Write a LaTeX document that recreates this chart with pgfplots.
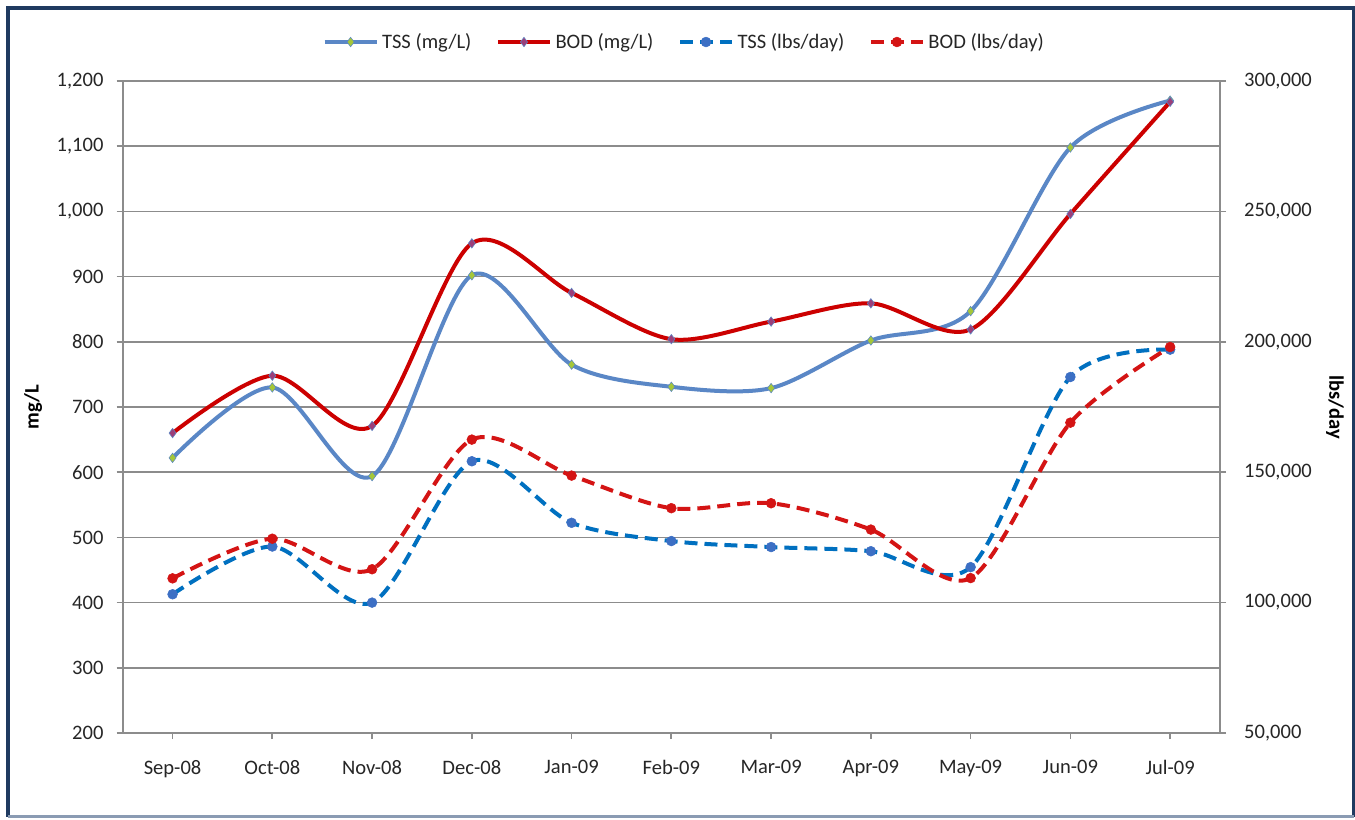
\documentclass[border=0pt]{standalone}
\usepackage{fontspec}
\setmainfont{Carlito}
\usepackage{pgfplots}
\pgfplotsset{compat=1.18}
\definecolor{frameblue}{HTML}{1F3A60}
\definecolor{framegray}{HTML}{8A9BB3}
\definecolor{gridgray}{HTML}{8C8C8C}
\definecolor{labelcol}{HTML}{262626}
\definecolor{tssline}{HTML}{5A87C6}
\definecolor{tssmark}{HTML}{A5C739}
\definecolor{bodline}{HTML}{CC0000}
\definecolor{bodmark}{HTML}{9B3F7A}
\definecolor{tsslbs}{HTML}{0070C0}
\definecolor{tsslbsmark}{HTML}{3C6FC4}
\definecolor{bodlbs}{HTML}{D41414}
\newcommand\fs{\fontsize{11.7}{14}\selectfont}

\tikzset{
  tssmg/.style={color=tssline, line width=0.8mm, smooth, mark=diamond*, mark size=2.7pt,
    mark options={solid, fill=tssmark, draw=tssline, line width=0.3pt}},
  bodmg/.style={color=bodline, line width=0.8mm, smooth, mark=diamond*, mark size=2.7pt,
    mark options={solid, fill=bodmark, draw=tssline, line width=0.3pt}},
  tsslb/.style={color=tsslbs, line width=0.8mm, smooth, dash pattern=on 2.6mm off 1.4mm,
    mark=*, mark size=2.8pt, mark options={solid, fill=tsslbsmark, draw=tsslbsmark, line width=0.3pt}},
  bodlb/.style={color=bodlbs, line width=0.8mm, smooth, dash pattern=on 2.6mm off 1.4mm,
    mark=*, mark size=2.8pt, mark options={solid, fill=bodlbs, draw=bodlbs, line width=0.3pt}},
}

\pgfplotsset{
  twin/.style={
    scale only axis,
    width=21.946cm, height=13.04cm,
    at={(2.454cm,1.72cm)}, anchor=south west,
    xmin=-0.5, xmax=10.5,
    axis line style={gridgray, line width=0.35mm},
    tick style={gridgray, line width=0.35mm},
    major tick length=1.2mm,
    ticklabel style={font=\fs, text=labelcol},
    y tick label style={/pgf/number format/fixed, /pgf/number format/1000 sep={,},
      /pgf/number format/assume math mode=true},
    clip=false,
  },
}

\begin{document}
\begin{tikzpicture}
\useasboundingbox (0,0) rectangle (27.1cm,16.38cm);
\fill[white] (0,0) rectangle (27.1cm,16.38cm);

\begin{axis}[twin,
  ymin=200, ymax=1200, ytick={200,300,...,1200},
  axis x line*=bottom, axis y line*=left,
  tick align=outside,
  xtick={0,...,10},
  xticklabels={Sep-08,Oct-08,Nov-08,Dec-08,Jan-09,Feb-09,Mar-09,Apr-09,May-09,Jun-09,Jul-09},
  x tick label style={yshift=-3mm},
  y tick label style={xshift=-1.4mm},
  ymajorgrids, grid style={gridgray, line width=0.35mm},
  ylabel={mg/L},
  ylabel style={at={(axis description cs:-0.0817,0.5)}, anchor=center, font=\fs\bfseries},
]
\addplot[tssmg] coordinates {(0,622) (1,730) (2,594) (3,902) (4,765) (5,731) (6,729) (7,802) (8,847) (9,1098) (10,1170)};
\addplot[bodmg] coordinates {(0,660) (1,748) (2,671) (3,951) (4,875) (5,804) (6,831) (7,859) (8,819) (9,996) (10,1168)};
\end{axis}

\begin{axis}[twin,
  ymin=50000, ymax=300000, ytick={50000,100000,...,300000},
  scaled y ticks=false,
  axis x line=none, axis y line*=right,
  tick align=outside,
  y tick label style={xshift=2.4mm},
  ylabel={lbs/day},
  ylabel style={at={(axis description cs:1.1048,0.5)}, anchor=center, rotate=180, font=\fs\bfseries},
  legend style={at={(axis description cs:0.5125,1.0598)}, anchor=center, legend columns=-1,
    draw=none, fill=none, font=\fs, text=labelcol,
    /tikz/every even column/.append style={column sep=4.2mm}},
  legend image code/.code={\draw[mark repeat=2, mark phase=2, #1] plot coordinates {(0cm,0cm) (0.52cm,0cm) (1.04cm,0cm)};},
]
\addlegendimage{tssmg}\addlegendentry{TSS (mg/L)}
\addlegendimage{bodmg}\addlegendentry{BOD (mg/L)}
\addplot[tsslb] coordinates {(0,103200) (1,121500) (2,100000) (3,154200) (4,130600) (5,123600) (6,121300) (7,119700) (8,113600) (9,186500) (10,197000)};
\addlegendentry{TSS (lbs/day)}
\addplot[bodlb] coordinates {(0,109300) (1,124500) (2,112800) (3,162500) (4,148700) (5,136200) (6,138100) (7,128000) (8,109400) (9,169000) (10,198000)};
\addlegendentry{BOD (lbs/day)}
\end{axis}

\draw[frameblue, line width=0.8mm] (0.16cm,0.05cm) -- (0.16cm,16.21cm) -- (27.07cm,16.21cm) -- (27.07cm,0.05cm);
\draw[framegray, line width=0.5mm] (0.16cm,0.05cm) -- (27.07cm,0.05cm);
\end{tikzpicture}
\end{document}
